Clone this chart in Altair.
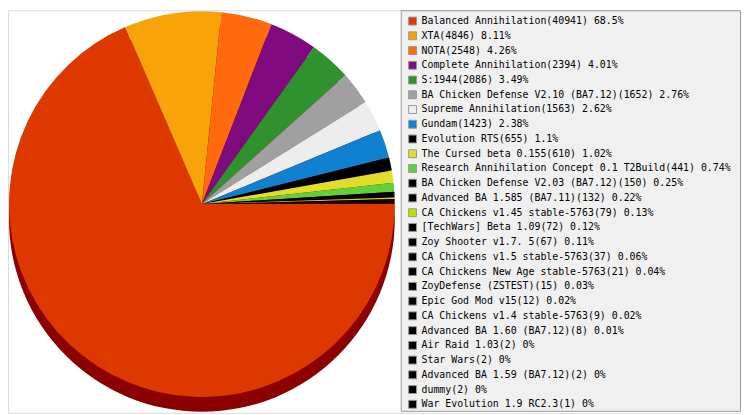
import math
import altair as alt
import pandas as pd

names = [
    "Balanced Annihilation", "XTA", "NOTA", "Complete Annihilation", "S:1944",
    "BA Chicken Defense V2.10 (BA7.12)", "Supreme Annihilation", "Gundam",
    "Evolution RTS", "The Cursed beta 0.155", "Research Annihilation Concept 0.1 T2Build",
    "BA Chicken Defense V2.03 (BA7.12)", "Advanced BA 1.585 (BA7.11)",
    "CA Chickens v1.45 stable-5763", "[TechWars] Beta 1.09", "Zoy Shooter v1.7. 5",
    "CA Chickens v1.5 stable-5763", "CA Chickens New Age stable-5763",
    "ZoyDefense (ZSTEST)", "Epic God Mod v15", "CA Chickens v1.4 stable-5763",
    "Advanced BA 1.60 (BA7.12)", "Air Raid 1.03", "Star Wars",
    "Advanced BA 1.59 (BA7.12)", "dummy", "War Evolution 1.9 RC2.3",
]
counts = [40941, 4846, 2548, 2394, 2086, 1652, 1563, 1423, 655, 610, 441, 150, 132,
          79, 72, 67, 37, 21, 15, 12, 9, 8, 2, 2, 2, 2, 1]
percents = ["68.5%", "8.11%", "4.26%", "4.01%", "3.49%", "2.76%", "2.62%", "2.38%",
            "1.1%", "1.02%", "0.74%", "0.25%", "0.22%", "0.13%", "0.12%", "0.11%",
            "0.06%", "0.04%", "0.03%", "0.02%", "0.02%", "0.01%", "0%", "0%", "0%",
            "0%", "0%"]
colors = ["#DC3800", "#F8A30A", "#FF6A0E", "#7E0A7E", "#2F922F", "#A0A0A0", "#EDEDED",
          "#1080D0", "#000000", "#E0DE2A", "#62D03A", "#000000", "#000000", "#C0E000",
          "#000000", "#000000", "#000000", "#000000", "#000000", "#000000", "#000000",
          "#000000", "#000000", "#000000", "#000000", "#000000", "#000000"]

labels = [f"{n}({c}) {p}" for n, c, p in zip(names, counts, percents)]
df = pd.DataFrame({"label": labels, "count": counts, "idx": list(range(len(labels)))})

R = 195
CX, CY = 196, 196
SHADOW = 15

base = alt.Chart(df)

box = base.transform_aggregate(total="sum(count)").mark_rect(
    fill="#F0F0F0", stroke="#999999", strokeWidth=1
).encode(
    x=alt.value(397.5), x2=alt.value(740.5), y=alt.value(0.5), y2=alt.value(405.5)
)

shadow = base.transform_aggregate(total="sum(count)").mark_arc(
    radius=R, theta=0, theta2=2 * math.pi, color="#8B0000"
).encode(x=alt.value(CX), y=alt.value(CY + SHADOW))

pie = base.mark_arc(radius=R).encode(
    theta=alt.Theta("count:Q", stack=True,
                    scale=alt.Scale(range=[math.pi / 2, math.pi / 2 + 2 * math.pi])),
    color=alt.Color(
        "label:N",
        scale=alt.Scale(domain=labels, range=colors),
        legend=alt.Legend(
            title=None, orient="none", legendX=404, legendY=6,
            symbolType="square", symbolSize=64, symbolStrokeColor="#999999",
            symbolStrokeWidth=1, symbolOpacity=1, labelFont="DejaVu Sans Mono",
            labelFontSize=10, labelColor="#000000", labelLimit=500,
            rowPadding=2.9, labelOffset=4, padding=0,
        ),
    ),
    order=alt.Order("idx:Q"),
    x=alt.value(CX), y=alt.value(CY),
)

chart = alt.layer(box, shadow, pie).properties(
    width=741, height=407, padding=0, autosize="none"
).configure_view(stroke=None).configure(background="white")

chart.save("out.html", embed_options={"renderer": "svg", "actions": False})
